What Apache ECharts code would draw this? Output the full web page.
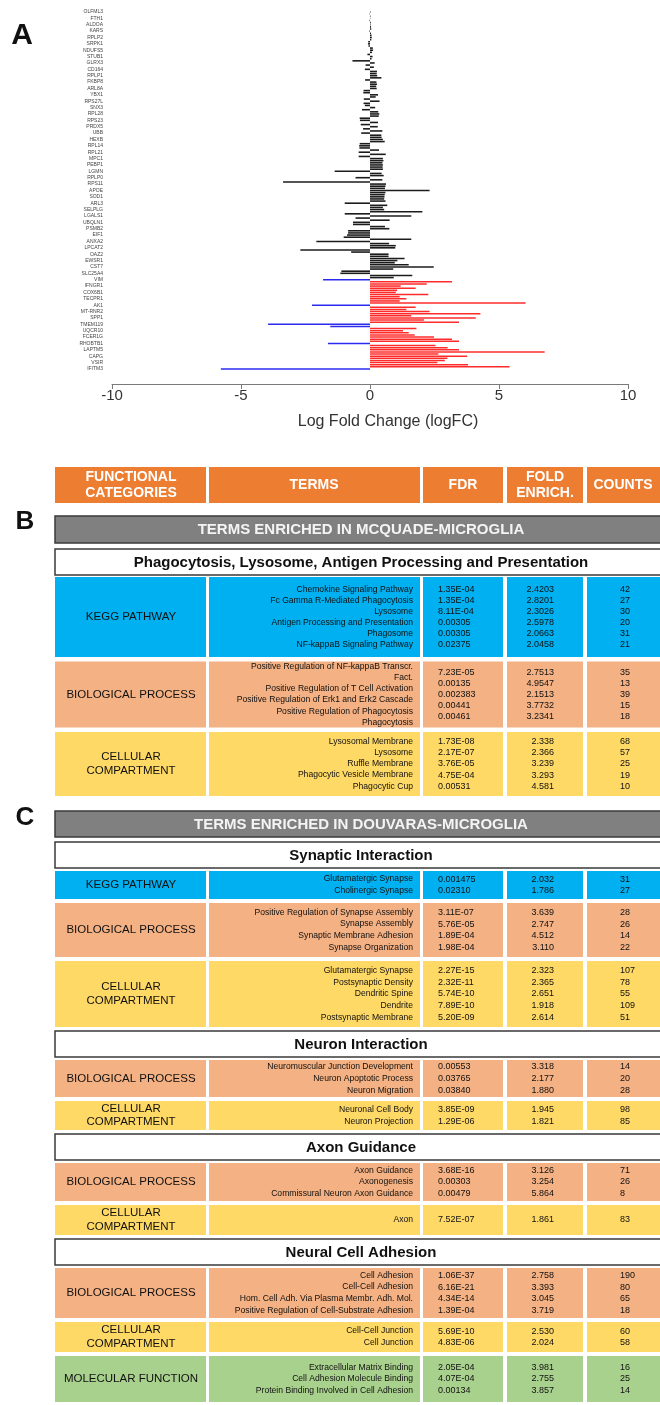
<!DOCTYPE html>
<html>
<head>
<meta charset="utf-8">
<script src="https://cdn.jsdelivr.net/npm/echarts@6/dist/echarts.min.js"></script>
<style>
  html, body { margin: 0; padding: 0; background: #ffffff; }
  #chart { width: 660px; height: 1405px; }
</style>
</head>
<body>
<div id="chart"></div>
<script>
// ---------------- Panel A: differential expression (logFC per gene) ----------------
// One label is printed for every third bar, from top to bottom.
const geneLabels = [
  'OLFML3', 'FTH1', 'ALDOA', 'KARS', 'RPLP2', 'SRPK1', 'NDUFS5', 'STUB1', 'GLRX3', 'CD164',
  'RPLP1', 'FKBP8', 'ARL8A', 'YBX1', 'RPS27L', 'SNX3', 'RPL28', 'RPS23', 'PRDX5', 'UBB',
  'HEXB', 'RPL14', 'RPL21', 'MPC1', 'PEBP1', 'LGMN', 'RPLP0', 'RPS11', 'APOE', 'SOD1',
  'ARL3', 'SELPLG', 'LGALS1', 'UBQLN1', 'PSMB2', 'EIF1', 'ANXA2', 'LPCAT2', 'OAZ2', 'EWSR1',
  'CST7', 'SLC25A4', 'VIM', 'IFNGR1', 'COX6B1', 'TECPR1', 'AK1', 'MT-RNR2', 'SPP1', 'TMEM119',
  'UQCR10', 'FCER1G', 'RHOBTB1', 'LAPTM5', 'CAPG', 'VSIR', 'IFITM3'
];

// log fold change of every gene, top to bottom
const logFC = [
  0.02, -0.01, 0.02, 0.01, -0.02, 0.03, 0.02, 0.04, 0.05, -0.02,
  0.04, 0.06, 0.07, 0.05, -0.07, -0.08, -0.06, 0.11, 0.12, 0.08,
  -0.10, 0.10, 0.06, -0.68, 0.18, -0.17, 0.15, -0.20, 0.27, 0.26,
  0.28, 0.44, -0.19, 0.25, 0.27, 0.24, 0.26, -0.25, -0.26, 0.31,
  0.22, -0.24, 0.37, -0.25, -0.20, 0.20, -0.31, 0.32, 0.36, 0.34,
  -0.40, -0.39, 0.31, -0.36, 0.30, -0.27, 0.48, -0.34, 0.44, 0.45,
  0.50, 0.57, -0.40, -0.42, -0.41, 0.35, -0.44, 0.61, -0.44, 0.50,
  0.52, 0.48, 0.50, 0.49, 0.50, -1.37, 0.45, 0.53, -0.56, 0.48,
  -3.37, 0.62, 0.60, 0.58, 2.31, 0.60, 0.57, 0.56, 0.55, 0.60,
  -0.98, 0.67, 0.50, 0.55, 2.03, -0.98, 1.60, -0.56, 0.76, -0.66,
  -0.66, 0.58, 0.75, -0.85, -0.85, -0.89, -1.02, 1.60, -2.08, 0.74,
  1.00, 0.98, -2.70, -0.73, 0.72, 0.72, 1.34, 1.06, 0.96, 1.50,
  2.47, 0.90, -1.11, -1.15, 1.64, 0.92, -1.82, 3.18, 2.20, 1.19,
  1.77, 1.05, 1.00, 2.26, 1.15, 1.41, 1.15, 6.03, -2.25, 1.77,
  1.41, 2.31, 4.28, 1.60, 4.10, 2.09, 3.45, -3.95, -1.54, 1.80,
  1.28, 1.50, 1.73, 2.48, 3.18, 3.45, -1.63, 2.54, 3.01, 3.45,
  6.77, 2.65, 3.77, 3.00, 2.90, 2.61, 3.80, 5.41, -5.78
];

// index of the first gene in the significant (coloured) block
const firstSignificant = 126;

const xTicks = [-10, -5, 0, 5, 10];

// ---------------- Panels B and C: enrichment tables ----------------
const headerCols = ['FUNCTIONAL\nCATEGORIES', 'TERMS', 'FDR', 'FOLD\nENRICH.', 'COUNTS'];

const mcquadeTitle = 'TERMS ENRICHED IN MCQUADE-MICROGLIA';
const douvarasTitle = 'TERMS ENRICHED IN DOUVARAS-MICROGLIA';

// [term, FDR, fold enrichment, count]
const phagoKegg = [
  ['Chemokine Signaling Pathway', '1.35E-04', '2.4203', 42],
  ['Fc Gamma R-Mediated Phagocytosis', '1.35E-04', '2.8201', 27],
  ['Lysosome', '8.11E-04', '2.3026', 30],
  ['Antigen Processing and Presentation', '0.00305', '2.5978', 20],
  ['Phagosome', '0.00305', '2.0663', 31],
  ['NF-kappaB Signaling Pathway', '0.02375', '2.0458', 21]
];
const phagoBio = [
  ['Positive Regulation of NF-kappaB Transcr.\nFact.', '7.23E-05', '2.7513', 35],
  ['Positive Regulation of T Cell Activation', '0.00135', '4.9547', 13],
  ['Positive Regulation of Erk1 and Erk2 Cascade', '0.002383', '2.1513', 39],
  ['Positive Regulation of Phagocytosis', '0.00441', '3.7732', 15],
  ['Phagocytosis', '0.00461', '3.2341', 18]
];
const phagoCell = [
  ['Lysosomal Membrane', '1.73E-08', '2.338', 68],
  ['Lysosome', '2.17E-07', '2.366', 57],
  ['Ruffle Membrane', '3.76E-05', '3.239', 25],
  ['Phagocytic Vesicle Membrane', '4.75E-04', '3.293', 19],
  ['Phagocytic Cup', '0.00531', '4.581', 10]
];

const synKegg = [
  ['Glutamatergic Synapse', '0.001475', '2.032', 31],
  ['Cholinergic Synapse', '0.02310', '1.786', 27]
];
const synBio = [
  ['Positive Regulation of Synapse Assembly', '3.11E-07', '3.639', 28],
  ['Synapse Assembly', '5.76E-05', '2.747', 26],
  ['Synaptic Membrane Adhesion', '1.89E-04', '4.512', 14],
  ['Synapse Organization', '1.98E-04', '3.110', 22]
];
const synCell = [
  ['Glutamatergic Synapse', '2.27E-15', '2.323', 107],
  ['Postsynaptic Density', '2.32E-11', '2.365', 78],
  ['Dendritic Spine', '5.74E-10', '2.651', 55],
  ['Dendrite', '7.89E-10', '1.918', 109],
  ['Postsynaptic Membrane', '5.20E-09', '2.614', 51]
];
const neuBio = [
  ['Neuromuscular Junction Development', '0.00553', '3.318', 14],
  ['Neuron Apoptotic Process', '0.03765', '2.177', 20],
  ['Neuron Migration', '0.03840', '1.880', 28]
];
const neuCell = [
  ['Neuronal Cell Body', '3.85E-09', '1.945', 98],
  ['Neuron Projection', '1.29E-06', '1.821', 85]
];
const axonBio = [
  ['Axon Guidance', '3.68E-16', '3.126', 71],
  ['Axonogenesis', '0.00303', '3.254', 26],
  ['Commissural Neuron Axon Guidance', '0.00479', '5.864', 8]
];
const axonCell = [
  ['Axon', '7.52E-07', '1.861', 83]
];
const adhBio = [
  ['Cell Adhesion', '1.06E-37', '2.758', 190],
  ['Cell-Cell Adhesion', '6.16E-21', '3.393', 80],
  ['Hom. Cell Adh. Via Plasma Membr. Adh. Mol.', '4.34E-14', '3.045', 65],
  ['Positive Regulation of Cell-Substrate Adhesion', '1.39E-04', '3.719', 18]
];
const adhCell = [
  ['Cell-Cell Junction', '5.69E-10', '2.530', 60],
  ['Cell Junction', '4.83E-06', '2.024', 58]
];
const adhMol = [
  ['Extracellular Matrix Binding', '2.05E-04', '3.981', 16],
  ['Cell Adhesion Molecule Binding', '4.07E-04', '2.755', 25],
  ['Protein Binding Involved in Cell Adhesion', '0.00134', '3.857', 14]
];

const KEGG = 'KEGG PATHWAY';
const BIO = 'BIOLOGICAL PROCESS';
const CELL = 'CELLULAR\nCOMPARTMENT';
const MOL = 'MOLECULAR FUNCTION';

const mcquadeGroups = [
  ['Phagocytosis, Lysosome, Antigen Processing and Presentation',
    [[KEGG, phagoKegg], [BIO, phagoBio], [CELL, phagoCell]]]
];
const douvarasGroups = [
  ['Synaptic Interaction', [[KEGG, synKegg], [BIO, synBio], [CELL, synCell]]],
  ['Neuron Interaction', [[BIO, neuBio], [CELL, neuCell]]],
  ['Axon Guidance', [[BIO, axonBio], [CELL, axonCell]]],
  ['Neural Cell Adhesion', [[BIO, adhBio], [CELL, adhCell], [MOL, adhMol]]]
];

// ---------------- styling & layout ----------------
const SANS = 'Liberation Sans, Arial, Helvetica, sans-serif';
const categoryFill = {};
categoryFill[KEGG] = '#00B0F0';
categoryFill[BIO] = '#F4B183';
categoryFill[CELL] = '#FFD966';
categoryFill[MOL] = '#A9D18E';

const colX = [55, 209, 423, 507, 587];
const colW = [151, 211, 80, 76, 80];
const boxRight = 667;

const els = [];
function addRect(x, y, w, h, fill, stroke, lw) {
  els.push({
    type: 'rect', silent: true,
    shape: { x: x, y: y, width: w, height: h },
    style: { fill: fill, stroke: stroke || null, lineWidth: lw || 0 }
  });
}
function addText(str, x, y, size, weight, fill, align, lh) {
  els.push({
    type: 'text', silent: true, x: x, y: y,
    style: {
      text: str, fontSize: size, fontWeight: weight, fontFamily: SANS, fill: fill,
      textAlign: align, align: align,
      textVerticalAlign: 'middle', verticalAlign: 'middle',
      lineHeight: lh || Math.round(size * 1.2)
    }
  });
}

// panel letters
addText('A', 22, 36, 30, 'bold', '#111', 'center');
addText('B', 25, 522, 26, 'bold', '#111', 'center');
addText('C', 25, 818, 26, 'bold', '#111', 'center');

// column header row
const headerTop = 467, headerH = 36;
const headerCx = [131, 314, 463, 545, 623];
headerCols.forEach(function (h, i) {
  addRect(colX[i], headerTop, colW[i], headerH, '#ED7D31');
  addText(h, headerCx[i], headerTop + headerH / 2 + 0.5, 14, 'bold', '#ffffff', 'center', 16);
});

function drawBox(y, h, label, rows, pitch) {
  const fill = categoryFill[label];
  for (let i = 0; i < 5; i++) addRect(colX[i], y, colW[i], h, fill);
  const cy = y + h / 2;
  addText(label, 131, cy, 11.5, 'normal', '#111', 'center', 13.5);
  const terms = rows.map(function (r) { return r[0]; }).join('\n');
  const fdr = rows.map(function (r) { return r[1]; }).join('\n');
  const fold = rows.map(function (r) { return r[2]; }).join('\n');
  const cnt = rows.map(function (r) { return String(r[3]); }).join('\n');
  addText(terms, 413, cy, 8.6, 'normal', '#111', 'right', pitch);
  addText(fdr, 438, cy, 9, 'normal', '#111', 'left', pitch);
  addText(fold, 554, cy, 9, 'normal', '#111', 'right', pitch);
  addText(cnt, 620, cy, 9, 'normal', '#111', 'left', pitch);
}

function drawSection(top, title, groups, boxHeights, cfg) {
  addRect(55, top, boxRight - 55, cfg.titleH, '#808080', '#3a3a3a', 1.5);
  addText(title, 361, top + cfg.titleH / 2 + 0.5, 15, 'bold', '#f4f4f4', 'center');
  let y = top + cfg.titleH + cfg.titleGap;
  let k = 0;
  groups.forEach(function (g, gi) {
    if (gi > 0) y += cfg.boxGap;
    addRect(55, y, boxRight - 55, cfg.subH, '#ffffff', '#3a3a3a', 1.5);
    addText(g[0], 361, y + cfg.subH / 2 + 0.5, 15, 'bold', '#111', 'center');
    y += cfg.subH + cfg.subGap;
    g[1].forEach(function (b, bi) {
      if (bi > 0) y += cfg.boxGap;
      const h = boxHeights[k++];
      drawBox(y, h, b[0], b[1], cfg.pitch);
      y += h;
    });
  });
}

drawSection(516, mcquadeTitle, mcquadeGroups, [80, 66, 64],
  { titleH: 27, titleGap: 6, subH: 26, subGap: 2, boxGap: 4.5, pitch: 11.1 });
drawSection(811, douvarasTitle, douvarasGroups, [28, 54, 66, 37, 29, 38, 30, 50, 30, 46],
  { titleH: 26, titleGap: 5, subH: 26, subGap: 3, boxGap: 4, pitch: 11.8 });

// ---------------- chart ----------------
const categories = logFC.map(function (v, i) { return i % 3 === 0 ? geneLabels[i / 3] : ''; });

const chart = echarts.init(document.getElementById('chart'), null, { renderer: 'canvas', width: 660, height: 1405 });
chart.setOption({
  animation: false,
  backgroundColor: '#ffffff',
  grid: { left: 112, right: 32, top: 10.9, height: 359.1, containLabel: false, outerBoundsMode: 'none' },
  xAxis: {
    type: 'value',
    min: xTicks[0], max: xTicks[xTicks.length - 1], interval: 5,
    position: 'bottom', offset: 14,
    axisLine: { show: true, onZero: false, lineStyle: { color: '#7a7a7a', width: 1 } },
    axisTick: { show: true, length: 5, lineStyle: { color: '#7a7a7a', width: 1 } },
    axisLabel: { fontSize: 15, color: '#333', margin: 4, fontFamily: SANS },
    splitLine: { show: false },
    name: 'Log Fold Change (logFC)',
    nameLocation: 'middle', nameGap: 30,
    nameTextStyle: { fontSize: 16, color: '#333', fontFamily: SANS, padding: [0, 0, 0, 36] }
  },
  yAxis: {
    type: 'category', inverse: true, data: categories,
    axisLine: { show: false }, axisTick: { show: false },
    axisLabel: { interval: 2, fontSize: 5, color: '#444', margin: 9, fontFamily: SANS },
    splitLine: { show: false }
  },
  series: [{
    type: 'bar',
    data: logFC,
    barWidth: '75%',
    itemStyle: {
      color: function (p) {
        if (p.dataIndex < firstSignificant) return '#1c1c1c';
        return p.value > 0 ? '#FF2B2B' : '#2B2BF0';
      }
    }
  }],
  graphic: { elements: els }
});
</script>
</body>
</html>
